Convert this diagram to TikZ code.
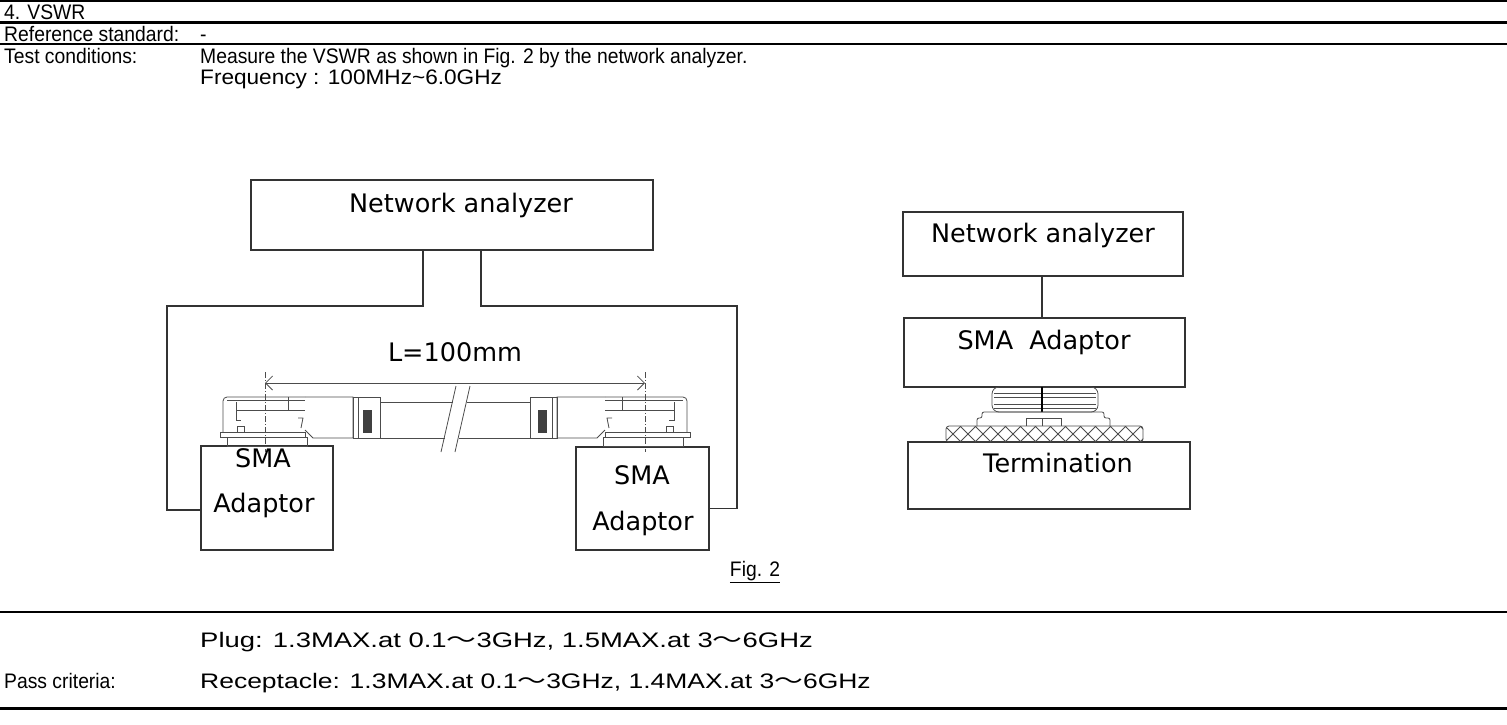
\documentclass[tikz,border=0pt]{standalone}
\usepackage{graphicx}
\usepackage{fontspec}
\setmainfont[FakeStretch=0.92]{Liberation Sans}
\newfontfamily\figfont{DejaVu Sans}
\newfontfamily\cjkfont{Noto Sans CJK JP}
\usetikzlibrary{arrows.meta,positioning}

\newcommand{\wave}{{\cjkfont ～}}

% one plug, drawn facing left (mirrored for the other end)
\newcommand{\plugpart}{%
  \draw[part, rounded corners=4pt] (223,432) -- (223,397) -- (305,397);
  \draw[part] (227,400) -- (305,400);
  \draw[part] (236,410) -- (305,410);
  \draw[part] (236,402) -- (236,420) -- (241,420);
  \draw[part] (288,397) -- (288,410);
  \draw[part] (298,418) -- (303,418) -- (301,428);
  \draw[part] (220,432) rectangle (305,437);
  \draw[part] (227,437) rectangle (307,446);
  \draw[part] (237,426) rectangle (244,432);
  \draw[part] (305,397) -- (353,397) -- (353,438) -- (313,438) -- (305,430);
  \draw[part] (353,397) rectangle (380,438);
  \draw[part] (358,397) -- (358,438);
  \fill[black!75] (363,410) rectangle (372,433);
}

\tikzset{
  cell/.style={anchor=base west, inner sep=0pt, font=\fontsize{21pt}{23pt}\selectfont},
  figtxt/.style={inner sep=0pt, font=\figfont\fontsize{25.5pt}{30pt}\selectfont},
  box/.style={draw=black!80, line width=1.3pt, inner sep=0pt},
  wire/.style={draw=black!80, line width=1.3pt},
  part/.style={draw=black!70, line width=0.8pt},
  rule/.style={line width=#1},
}

\begin{document}
\begin{tikzpicture}[x=1pt, y=-1pt]
  \useasboundingbox (0,0) rectangle (1507,724);

  % table rules
  \draw[rule=1.5pt] (0,1) -- (1507,1);
  \draw[rule=3pt] (0,22) -- (1507,22);
  \draw[rule=1.5pt] (0,44) -- (1507,44);
  \draw[rule=2pt] (0,612) -- (1507,612);
  \draw[rule=3pt] (0,708) -- (1507,708);

  % table texts
  \node[cell] (title) at (4,19) {4. VSWR};
  \node[cell] (refstd) at (4,41) {Reference standard:};
  \node[cell] (refval) at (200,41) {-};
  \node[cell] (testlbl) at (4,63) {Test conditions:};
  \node[cell] (testtxt) at (200,63) {Measure the VSWR as shown in Fig. 2 by the network analyzer.};
  \node[cell] (freqtxt) at (200,84) {\scalebox{1.17}[1]{Frequency : 100MHz\textasciitilde 6.0GHz}};
  \node[cell] (plugtxt) at (200,647) {\scalebox{1.42}[1]{Plug: 1.3MAX.at 0.1\wave3GHz, 1.5MAX.at 3\wave6GHz}};
  \node[cell] (passlbl) at (4,688) {Pass criteria:};
  \node[cell] (recptxt) at (200,688) {\scalebox{1.37}[1]{Receptacle: 1.3MAX.at 0.1\wave3GHz, 1.4MAX.at 3\wave6GHz}};

  % left set-up
  \node[box, minimum width=402pt, minimum height=70pt] (naL) at (452,215) {};
  \node[figtxt] (naLtxt) at (461,205) {Network analyzer};
  \node[box, minimum width=132pt, minimum height=104pt] (adL) at (267,498) {};
  \node[figtxt] (adLsma) at (263,458) {SMA};
  \node[figtxt] (adLtxt) at (264,505) {Adaptor};
  \node[box, minimum width=133pt, minimum height=103pt] (adR) at (642.5,498.5) {};
  \node[figtxt] (adRsma) at (642,475) {SMA};
  \node[figtxt] (adRtxt) at (643,523) {Adaptor};

  \draw[wire] ([xshift=-29pt]naL.south) |- (167,306) |- ([yshift=-12pt]adL.west);
  \draw[wire] ([xshift=29pt]naL.south) |- (737,306) |- ([yshift=-10pt]adR.east);

  % cable assembly
  \plugpart
  \begin{scope}[xshift=910pt, xscale=-1]
    \plugpart
  \end{scope}
  \draw[part] (380,402) -- (453,402) (380,438) -- (445,438);
  \draw[part] (467,402) -- (530,402) (459,438) -- (530,438);
  \draw[part] (441,452) -- (456,386) (455,452) -- (470,386);

  \coordinate (dimL) at (265,383);
  \coordinate (dimR) at (645,383);
  \draw[part, dash pattern=on 6pt off 2pt on 1pt off 2pt] (265,372) -- (265,452) (645,372) -- (645,452);
  \draw[part, {Straight Barb[length=7pt]}-{Straight Barb[length=7pt]}] (dimL) -- (dimR);
  \node[figtxt] (len) at (455,352) {L=100mm};

  \node[cell, anchor=center] (fig) at (755,572) {\underline{Fig. 2}};

  % right set-up
  \node[box, minimum width=280pt, minimum height=64pt] (naR) at (1043,244) {};
  \node[figtxt] (naRtxt) at (1043,235) {Network analyzer};
  \node[box, minimum width=281pt, minimum height=69pt] (smaR) at (1044.5,352.5) {};
  \node[figtxt] (smaRtxt) at (1044,342) {SMA\ \ Adaptor};
  \node[box, minimum width=282pt, minimum height=67pt] (termR) at (1049,475.5) {};
  \node[figtxt] (termRtxt) at (1058,463) {Termination};

  \draw[wire] (naR.south -| 1042,0) -- (smaR.north -| 1042,0);

  % termination plug
  \draw[part, rounded corners=7pt] (992,387) rectangle (1098,412);
  \foreach \y in {393,397,404,408}
    \draw[part] (994,\y) -- (1096,\y);
  \draw[line width=2pt] (1042,387) -- (1042,412);
  \draw[part, rounded corners=2pt] (977,426) -- (977,418) -- (982,418) -- (982,412) -- (1104,412) -- (1104,418) -- (1110,418) -- (1110,426);
  \draw[part] (1026,426) -- (1026,418) -- (1061,418) -- (1061,426) (1042,418) -- (1042,426);
  \begin{scope}
    \clip[rounded corners=3pt] (946,426) rectangle (1143,442);
    \foreach \i in {930,945,...,1145} {
      \draw[part] (\i,442) -- ++(16,-16);
      \draw[part] (\i,426) -- ++(16,16);
    }
  \end{scope}
  \draw[part, rounded corners=3pt] (946,426) rectangle (1143,442);
\end{tikzpicture}
\end{document}
